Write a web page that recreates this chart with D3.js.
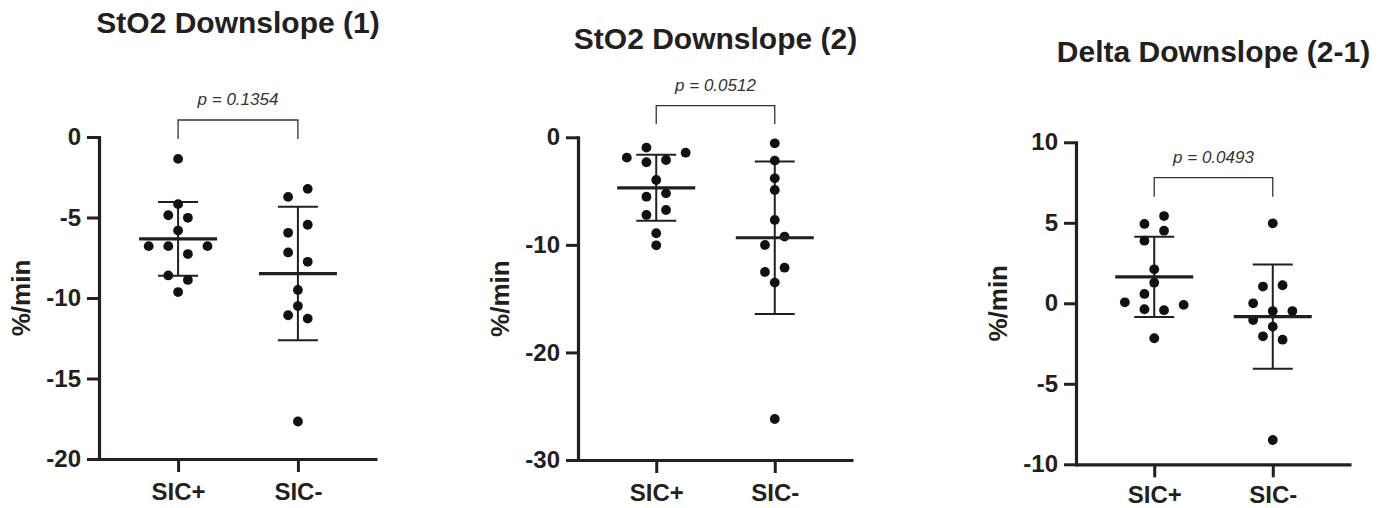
<!DOCTYPE html>
<html>
<head>
<meta charset="utf-8">
<script src="https://cdn.jsdelivr.net/npm/d3@7"></script>
<style>
  body { margin: 0; background: #fff; }
  svg { display: block; font-family: "Liberation Sans", Arial, Helvetica, sans-serif; }
</style>
</head>
<body>
<svg id="chart" width="1391" height="508"></svg>
<script>
// categories and labels
var categories = ["SIC+", "SIC-"];
var titles = ["StO2 Downslope (1)", "StO2 Downslope (2)", "Delta Downslope (2-1)"];
var pLabels = ["p = 0.1354", "p = 0.0512", "p = 0.0493"];
var yLabel = "%/min";
var yDomains = [[-20, 0], [-30, 0], [-10, 10]];
var yTicks = [[0, -5, -10, -15, -20], [0, -10, -20, -30], [10, 5, 0, -5, -10]];

// values (%/min)
var down1Pos = [-1.36, -4.17, -4.86, -5.02, -5.81, -6.78, -6.78, -6.78, -7.27, -8.60, -8.88, -9.63];
var down1Neg = [-3.22, -3.72, -5.45, -5.95, -7.17, -7.75, -9.50, -10.50, -11.07, -11.28, -17.67];
var down2Pos = [-0.96, -1.43, -1.89, -2.32, -2.11, -3.97, -5.52, -5.21, -7.22, -6.76, -8.92, -10.04];
var down2Neg = [-0.56, -2.17, -3.81, -4.90, -7.69, -9.23, -10.01, -12.12, -12.52, -13.51, -26.19];
var deltaPos = [5.42, 4.93, 4.51, 3.89, 2.11, 1.28, 0.58, 0.06, -0.10, -0.37, -0.43, -2.17];
var deltaNeg = [4.97, 1.04, 1.12, 0.00, -0.48, -0.48, -1.04, -1.45, -2.05, -2.26, -8.49];

// scatter slot of each point (same order as values)
var down1PosSlot = [0, 0, -1, 1, 0, -3, -1, 3, 1, -1, 1, 0];
var down1NegSlot = [1, -1, 1, -1, -1, 1, 0, 0, -1, 1, 0];
var down2PosSlot = [-1, 3, -3, -1, 1, 0, -1, 1, -1, 1, 0, 0];
var down2NegSlot = [0, 0, 0, 0, 0, 1, -1, 1, -1, 0, 0];
var deltaPosSlot = [1, -1, 1, -1, 0, 0, -1, -3, 3, -1, 1, 0];
var deltaNegSlot = [0, -1, 1, -2, 0, 2, -2, 0, -1, 1, 0];

var groupValues = [[down1Pos, down1Neg], [down2Pos, down2Neg], [deltaPos, deltaNeg]];
var groupSlots = [[down1PosSlot, down1NegSlot], [down2PosSlot, down2NegSlot], [deltaPosSlot, deltaNegSlot]];

// page layout
var layout = [
  {x0: 99,   x1: 377,  yTop: 137,   yBot: 459,   titleY: 33, bracketY: 120,   legY: 139, labY: 41},
  {x0: 578,  x1: 853,  yTop: 137.3, yBot: 460,   titleY: 49, bracketY: 105.7, legY: 124, labY: 41},
  {x0: 1076, x1: 1351, yTop: 142.3, yBot: 464.3, titleY: 62, bracketY: 177.7, legY: 196.7, labY: 39}
];

var ink = "#231f20";
var slotW = 9.8;
var dotR = 4.9;

var svg = d3.select("#chart");

layout.forEach(function(L, i){
  var g = svg.append("g");

  var y = d3.scaleLinear().domain(yDomains[i]).range([L.yBot, L.yTop]);
  var x = d3.scalePoint().domain(categories).range([L.x0, L.x1]).padding(0.66);

  // title
  g.append("text")
    .attr("x", (L.x0 + L.x1) / 2)
    .attr("y", L.titleY)
    .attr("text-anchor", "middle")
    .attr("font-size", 30)
    .attr("font-weight", "bold")
    .style("fill", ink)
    .text(titles[i]);

  // y axis
  var ya = g.append("g")
    .attr("transform", "translate(" + L.x0 + ",0)")
    .call(d3.axisLeft(y).tickValues(yTicks[i]).tickSize(12).tickSizeOuter(0).tickPadding(6).tickFormat(d3.format("d")));
  ya.select(".domain").attr("stroke", ink).attr("stroke-width", 3.2).attr("stroke-linecap", "square");
  ya.selectAll(".tick line").attr("stroke", ink).attr("stroke-width", 3);
  ya.selectAll(".tick text")
    .attr("font-size", 24)
    .attr("font-weight", "bold")
    .attr("font-family", "'Liberation Sans', Arial, sans-serif")
    .attr("fill", ink)
    .text(function(d){ return d < 0 ? "-" + Math.abs(d) : d; });

  // x axis
  var xa = g.append("g")
    .attr("transform", "translate(0," + L.yBot + ")")
    .call(d3.axisBottom(x).tickSize(13).tickSizeOuter(0).tickPadding(10));
  xa.select(".domain").attr("stroke", ink).attr("stroke-width", 3.2);
  xa.selectAll(".tick line").attr("stroke", ink).attr("stroke-width", 3);
  xa.selectAll(".tick text")
    .attr("y", L.labY)
    .attr("dy", 0)
    .attr("font-size", 24)
    .attr("font-weight", "bold")
    .attr("font-family", "'Liberation Sans', Arial, sans-serif")
    .attr("fill", ink);

  // y label
  g.append("text")
    .attr("transform", "translate(" + (L.x0 - 69) + "," + ((L.yTop + L.yBot) / 2) + ") rotate(-90)")
    .attr("text-anchor", "middle")
    .attr("font-size", 26)
    .attr("font-weight", "bold")
    .style("fill", ink)
    .text(yLabel);

  // groups: dots, mean and SD
  categories.forEach(function(cat, j){
    var vals = groupValues[i][j];
    var slots = groupSlots[i][j];
    var cx = x(cat);
    var m = d3.mean(vals);
    var sd = d3.deviation(vals);

    g.append("line")
      .attr("x1", cx).attr("x2", cx)
      .attr("y1", y(m + sd)).attr("y2", y(m - sd))
      .attr("stroke", ink).attr("stroke-width", 2);
    [m + sd, m - sd].forEach(function(v){
      g.append("line")
        .attr("x1", cx - 20).attr("x2", cx + 20)
        .attr("y1", y(v)).attr("y2", y(v))
        .attr("stroke", ink).attr("stroke-width", 2);
    });

    g.selectAll(".dot" + j)
      .data(vals)
      .enter().append("circle")
      .attr("cx", function(d, k){ return cx + slots[k] * slotW; })
      .attr("cy", function(d){ return y(d); })
      .attr("r", dotR)
      .attr("fill", "#111");

    g.append("line")
      .attr("x1", cx - 39).attr("x2", cx + 39)
      .attr("y1", y(m)).attr("y2", y(m))
      .attr("stroke", ink).attr("stroke-width", 3.2);
  });

  // significance bracket
  var xa0 = x(categories[0]), xb0 = x(categories[1]);
  g.append("path")
    .attr("d", "M" + xa0 + "," + L.legY + "V" + L.bracketY + "H" + xb0 + "V" + L.legY)
    .attr("fill", "none")
    .attr("stroke", "#333")
    .attr("stroke-width", 1.3);
  g.append("text")
    .attr("x", (xa0 + xb0) / 2)
    .attr("y", L.bracketY - 15)
    .attr("text-anchor", "middle")
    .attr("font-size", 17)
    .attr("font-style", "italic")
    .style("fill", "#333")
    .text(pLabels[i]);
});
</script>
</body>
</html>
